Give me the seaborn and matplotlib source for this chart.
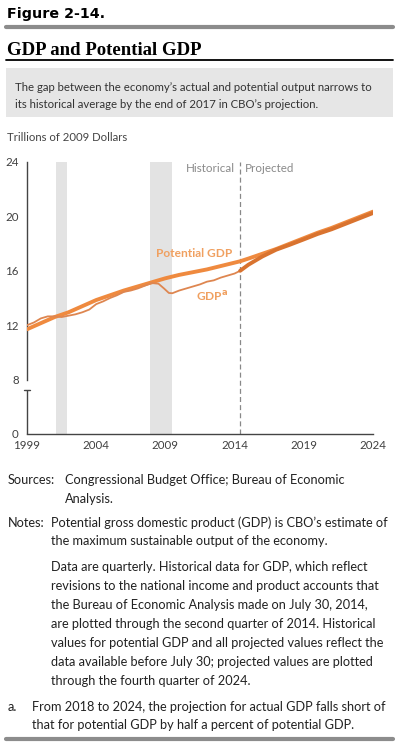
import numpy as np
import pandas as pd
import matplotlib
matplotlib.use("Agg")
import matplotlib.pyplot as plt
import seaborn as sns

# ---------------- data ----------------
pot_years = [1999, 2000, 2001, 2002, 2003, 2004, 2005, 2006, 2007, 2008, 2009,
             2010, 2011, 2012, 2013, 2014, 2014.4, 2015, 2016, 2017, 2018, 2019,
             2020, 2021, 2022, 2023, 2024]
pot_values = [11.7, 12.15, 12.6, 12.95, 13.4, 13.85, 14.2, 14.55, 14.85, 15.15, 15.45,
              15.7, 15.9, 16.1, 16.35, 16.6, 16.7, 16.9, 17.25, 17.6, 18.0, 18.4,
              18.8, 19.15, 19.55, 19.95, 20.35]

gdp_hist_years = [1999, 1999.5, 2000, 2000.5, 2001, 2001.5, 2002, 2002.5, 2003, 2003.5,
                  2004, 2004.5, 2005, 2005.5, 2006, 2006.5, 2007, 2007.5, 2008, 2008.5,
                  2008.9, 2009.25, 2009.5, 2010, 2010.5, 2011, 2011.5, 2012, 2012.5,
                  2013, 2013.5, 2014, 2014.4]
gdp_hist_values = [12.0, 12.2, 12.5, 12.65, 12.65, 12.6, 12.7, 12.8, 12.95, 13.15,
                   13.55, 13.75, 14.0, 14.2, 14.45, 14.55, 14.7, 14.9, 15.1, 15.05,
                   14.7, 14.37, 14.35, 14.55, 14.7, 14.85, 15.0, 15.2, 15.3,
                   15.5, 15.65, 15.8, 16.0]

gdp_proj_years = [2014.4, 2015, 2016, 2017, 2018, 2019, 2020, 2021, 2022, 2023, 2024]
gdp_proj_values = [16.0, 16.45, 17.05, 17.55, 17.92, 18.31, 18.71, 19.05, 19.45, 19.85, 20.25]

recessions = [(2001.08, 2001.88), (2007.9, 2009.5)]
split_year = 2014.4

x_ticks = [1999, 2004, 2009, 2014, 2019, 2024]
y_ticks = [4, 8, 12, 16, 20, 24]          # axis is broken: bottom position shows 0
y_ticklabels = ["0", "8", "12", "16", "20", "24"]

# ---------------- figure ----------------
W, H = 397, 747
sns.set_style("white")
plt.rcParams["font.family"] = ["Lato", "DejaVu Sans"]
fig = plt.figure(figsize=(W / 100, H / 100), dpi=100)

def fx(px):
    return px / W

def fy(py):
    return 1 - py / H

# header
fig.text(fx(7), fy(18), "Figure 2-14.", fontsize=10.3, fontweight="heavy",
         family=["DejaVu Sans"], color="black", va="baseline")
fig.add_artist(plt.Line2D([fx(6), fx(393)], [fy(27), fy(27)], color="#8c8c8c", lw=3))
fig.text(fx(7), fy(55), "GDP and Potential GDP", fontsize=13.5, fontweight="bold",
         family=["Liberation Serif"], color="black", va="baseline")
fig.add_artist(plt.Line2D([fx(6), fx(393)], [fy(60), fy(60)], color="black", lw=1.3))
fig.add_artist(plt.Rectangle((fx(6), fy(117)), fx(393) - fx(6), fy(68) - fy(117),
                             color="#e6e6e6", lw=0))
fig.text(fx(15), fy(91), "The gap between the economy\u2019s actual and potential output narrows to",
         fontsize=8.2, color="#333333", va="baseline")
fig.text(fx(15), fy(108), "its historical average by the end of 2017 in CBO\u2019s projection.",
         fontsize=8.2, color="#333333", va="baseline")
fig.text(fx(7), fy(141), "Trillions of 2009 Dollars", fontsize=8.2, color="#444444",
         va="baseline")

# axes
left, right, top, bottom = 27, 373, 162, 434
ax = fig.add_axes([fx(left), fy(bottom), fx(right) - fx(left), fy(top) - fy(bottom)])

for a, b in recessions:
    ax.axvspan(a, b, color="#e3e3e3", lw=0, zorder=0)

pot_df = pd.DataFrame({"year": pot_years, "value": pot_values})
hist_df = pd.DataFrame({"year": gdp_hist_years, "value": gdp_hist_values})
proj_df = pd.DataFrame({"year": gdp_proj_years, "value": gdp_proj_values})

sns.lineplot(data=pot_df, x="year", y="value", ax=ax, color="#ef8a3f", lw=2.8,
             zorder=3)
sns.lineplot(data=hist_df, x="year", y="value", ax=ax, color="#de8650", lw=1.3,
             zorder=4)
sns.lineplot(data=proj_df, x="year", y="value", ax=ax, color="#d9732f", lw=2.8,
             zorder=4)

ax.axvline(split_year, color="#888888", lw=0.9, ls=(0, (4, 2.5)), zorder=2)

ax.set_xlim(1999, 2024)
ax.set_ylim(4, 24)
ax.set_xlabel("")
ax.set_ylabel("")
ax.set_xticks(x_ticks)
ax.set_xticklabels([str(t) for t in x_ticks])
ax.set_yticks(y_ticks)
ax.set_yticklabels(y_ticklabels)

for s in ["top", "right"]:
    ax.spines[s].set_visible(False)
ax.spines["left"].set_bounds(8, 24)
ax.spines["left"].set_color("#444444")
ax.spines["bottom"].set_color("#444444")
ax.spines["left"].set_linewidth(1.0)
ax.spines["bottom"].set_linewidth(1.0)
# lower part of broken axis
ax.plot([1999, 1999], [4, 7.2], color="#444444", lw=1.0, clip_on=False,
        solid_capstyle="butt")
ax.plot([1999 - 0.2, 1999 + 0.2], [7.2, 7.2], color="#444444", lw=1.0,
        clip_on=False)

ax.tick_params(axis="y", direction="inout", length=6, width=1.0, color="#444444",
               labelsize=8.3, labelcolor="#404040", pad=3)
ax.tick_params(axis="x", direction="in", length=5, width=1.0, color="#444444",
               labelsize=8.3, labelcolor="#404040", pad=4)

ax.text(split_year - 0.35, 23.5, "Historical", ha="right", va="center",
        fontsize=8.4, color="#8a8a8a")
ax.text(split_year + 0.35, 23.5, "Projected", ha="left", va="center",
        fontsize=8.4, color="#8a8a8a")
ax.text(2008.3, 17.3, "Potential GDP", ha="left", va="center", fontsize=8.6,
        fontweight="bold", color="#f0a060")
ax.text(2013.5, 14.15, "GDP$^{\\mathbf{a}}$", ha="right", va="center", fontsize=8.6,
        fontweight="bold", color="#f0a060")

# notes
fs = 9.2
col = "#222222"
fig.text(fx(8), fy(484), "Sources:", fontsize=fs, color=col, va="baseline")
fig.text(fx(65), fy(484), "Congressional Budget Office; Bureau of Economic",
         fontsize=fs, color=col, va="baseline")
fig.text(fx(65), fy(503), "Analysis.", fontsize=fs, color=col, va="baseline")
fig.text(fx(8), fy(527), "Notes:", fontsize=fs, color=col, va="baseline")
notes_lines = [
    (527, "Potential gross domestic product (GDP) is CBO\u2019s estimate of"),
    (545, "the maximum sustainable output of the economy."),
    (571, "Data are quarterly. Historical data for GDP, which reflect"),
    (590, "revisions to the national income and product accounts that"),
    (609, "the Bureau of Economic Analysis made on July 30, 2014,"),
    (628, "are plotted through the second quarter of 2014. Historical"),
    (647, "values for potential GDP and all projected values reflect the"),
    (666, "data available before July 30; projected values are plotted"),
    (685, "through the fourth quarter of 2024."),
]
for y, t in notes_lines:
    fig.text(fx(51), fy(y), t, fontsize=fs, color=col, va="baseline")
fig.text(fx(8), fy(711), "a.", fontsize=fs, color=col, va="baseline")
fig.text(fx(32), fy(711), "From 2018 to 2024, the projection for actual GDP falls short of",
         fontsize=fs, color=col, va="baseline")
fig.text(fx(32), fy(729), "that for potential GDP by half a percent of potential GDP.",
         fontsize=fs, color=col, va="baseline")
fig.add_artist(plt.Line2D([fx(6), fx(393)], [fy(739), fy(739)], color="#8c8c8c", lw=3))

fig.savefig("out.png", dpi=100)
